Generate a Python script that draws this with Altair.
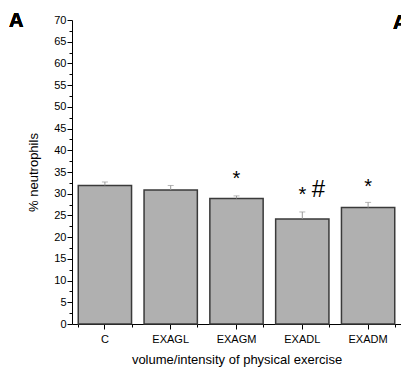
import altair as alt
import pandas as pd

categories = ["C", "EXAGL", "EXAGM", "EXADL", "EXADM"]
means = [31.9, 30.85, 28.9, 24.2, 26.8]
errors = [0.8, 1.05, 0.6, 1.6, 1.2]

star_cats = ["EXAGM", "EXADL", "EXADM"]
star_y = [34.6, 30.8, 32.6]
hash_cats = ["EXADL"]
hash_y = [30.9]

y_ticks = [i * 2.5 for i in range(29)]

df = pd.DataFrame({"cat": categories, "mean": means, "err": errors})
df["upper"] = df["mean"] + df["err"]
stars = pd.DataFrame({"cat": star_cats, "y": star_y})
hashes = pd.DataFrame({"cat": hash_cats, "y": hash_y})

FONT = "Liberation Sans"

xscale = alt.Scale(domain=categories, paddingInner=0.19, paddingOuter=0.095)
yscale = alt.Scale(domain=[0, 70], nice=False, zero=True)

yaxis = alt.Axis(
    title="% neutrophils", values=y_ticks,
    labelExpr="datum.value % 5 === 0 ? datum.value : ''",
    labelOverlap=False,
    labelFont=FONT, labelFontSize=11, labelColor="black", labelPadding=1,
    titleFont=FONT, titleFontSize=13, titleFontWeight="normal", titleColor="black",
    titlePadding=13, domainColor="black", tickColor="black",
    tickSize={"condition": {"test": "datum.value % 5 === 0", "value": 5}, "value": 3},
    grid=False,
)

x_main = alt.X(
    "cat:N", scale=xscale, sort=categories,
    axis=alt.Axis(
        title="volume/intensity of physical exercise", labelAngle=0,
        labelFont=FONT, labelFontSize=11, labelColor="black", labelPadding=4,
        titleFont=FONT, titleFontSize=13, titleFontWeight="normal", titleColor="black",
        titlePadding=9, domainColor="black", tickColor="black", tickSize=5,
        orient="bottom",
    ),
)
x_plain = alt.X("cat:N", scale=xscale, sort=categories, axis=None)

base = alt.Chart(df)

bars = base.mark_bar(color="#b0b0b0", stroke="#3a3a3a", strokeWidth=1.5).encode(
    x=x_main, y=alt.Y("mean:Q", scale=yscale, axis=yaxis)
)

err_rule = base.mark_rule(color="#999999", strokeWidth=1).encode(
    x=x_plain,
    y=alt.Y("mean:Q", scale=yscale, axis=yaxis),
    y2="upper:Q",
)
err_cap = base.mark_tick(color="#999999", size=6, thickness=1, orient="horizontal").encode(
    x=x_plain,
    y=alt.Y("upper:Q", scale=yscale, axis=yaxis),
)

star_text = alt.Chart(stars).mark_text(
    text="*", font=FONT, fontSize=20, color="black", baseline="middle", dy=5
).encode(
    x=x_plain,
    y=alt.Y("y:Q", scale=yscale, axis=yaxis),
)
hash_text = alt.Chart(hashes).mark_text(
    text="#", font=FONT, fontSize=24, color="black", baseline="middle", dx=16
).encode(
    x=x_plain,
    y=alt.Y("y:Q", scale=yscale, axis=yaxis),
)

minor_x = base.mark_tick(opacity=0).encode(
    x=alt.X(
        "cat:N", scale=xscale, sort=categories,
        axis=alt.Axis(
            orient="bottom", labels=False, domain=False, title=None,
            tickBand="extent", tickSize=3, tickColor="black",
        ),
    ),
    y=alt.Y("mean:Q", scale=yscale, axis=yaxis),
)

panel_left = alt.Chart(df).mark_text(
    text="A", font=FONT, fontSize=20, fontWeight="bold", color="black",
    align="left", baseline="top",
).encode(x=alt.value(-63), y=alt.value(-9))
panel_right = alt.Chart(df).mark_text(
    text="A", font=FONT, fontSize=20, fontWeight="bold", color="black",
    align="left", baseline="top",
).encode(x=alt.value(321), y=alt.value(-7))

chart = (
    alt.layer(bars, err_rule, err_cap, star_text, hash_text, minor_x, panel_left, panel_right)
    .resolve_axis(x="independent")
    .properties(
        width=329, height=304,
        autosize=alt.AutoSizeParams(type="none"),
        padding={"left": 72, "top": 20, "right": 0, "bottom": 51},
        background="white",
    )
    .configure_view(stroke=None)
)

chart.save("out.html", embed_options={"renderer": "svg", "actions": False})
